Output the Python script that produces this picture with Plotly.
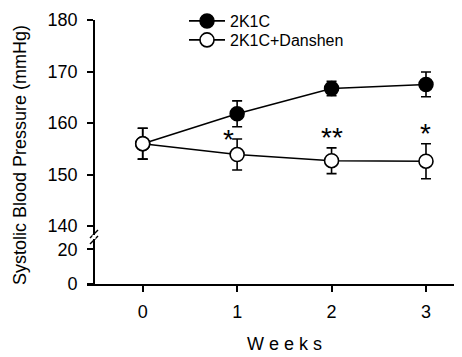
import plotly.graph_objects as go

weeks = [0, 1, 2, 3]
week_labels = ["0", "1", "2", "3"]

k1c_mean = [156.0, 161.8, 166.7, 167.5]
k1c_sem = [3.0, 2.5, 1.4, 2.4]

dan_mean = [156.0, 153.9, 152.7, 152.6]
dan_sem = [3.0, 3.0, 2.5, 3.4]

sig_labels = ["", "*", "**", "*"]

upper_ticks = [140, 150, 160, 170, 180]
lower_ticks = [0, 20]

FONT = "Liberation Sans, Arial, Helvetica, sans-serif"
OFF = 8                          # browser default body margin
W, H = 462 - OFF, 357 - OFF
ML, MT = 87 - OFF, 20 - OFF
PW, PH = 375, 264
MR, MB = W - ML - PW, H - MT - PH
# helpers: reference-image pixel -> paper fraction
px = lambda X: (X - 87) / PW
py = lambda Y: (284 - Y) / PH
brk = py(237)                    # where the axis breaks
yax_pos = px(94)                 # x of the y-axis line

fig = go.Figure()

err_style = dict(type="data", visible=True, thickness=1.6, width=5, color="black")

fig.add_trace(go.Scatter(
    x=weeks, y=k1c_mean, name="2K1C", mode="lines+markers", legend="legend",
    line=dict(color="black", width=1.6),
    marker=dict(symbol="circle", size=14, color="black", line=dict(color="black", width=1.5)),
    error_y=dict(array=k1c_sem, **err_style),
))
fig.add_trace(go.Scatter(
    x=weeks, y=dan_mean, name="2K1C+Danshen", mode="lines+markers", legend="legend2",
    line=dict(color="black", width=1.6),
    marker=dict(symbol="circle", size=14, color="white", line=dict(color="black", width=1.6)),
    error_y=dict(array=dan_sem, **err_style),
))
# empty trace so the lower (0-20) axis segment is drawn
fig.add_trace(go.Scatter(x=[], y=[], yaxis="y2", showlegend=False, hoverinfo="skip"))

# significance stars above the Danshen error bars
star_xshift = [0, -9, 0, 0]
star_yshift = [0, -18, -7, -7]
for wk, m, e, lab, xs, ys in zip(weeks, dan_mean, dan_sem, sig_labels, star_xshift, star_yshift):
    if lab:
        fig.add_annotation(x=wk, y=m + e, xref="x", yref="y", text=lab,
                           showarrow=False, yanchor="bottom", xshift=xs, yshift=ys,
                           font=dict(family=FONT, size=28, color="black"))

# axis titles
fig.add_annotation(x=px(20), y=py(155), xref="paper", yref="paper",
                   xanchor="center", yanchor="middle",
                   text="Systolic Blood Pressure (mmHg)", textangle=-90, showarrow=False,
                   font=dict(family=FONT, size=18, color="black"))
fig.add_annotation(x=(weeks[0] + weeks[-1]) / 2, y=py(344), xref="x", yref="paper",
                   xanchor="center", yanchor="middle",
                   text="W e e k s", showarrow=False,
                   font=dict(family=FONT, size=18, color="black"))

# axis break marks
for dy in (-3, 3):
    fig.add_shape(type="line", xref="paper", yref="paper",
                  x0=yax_pos - 4 / PW, x1=yax_pos + 4 / PW,
                  y0=brk + (dy - 4) / PH, y1=brk + (dy + 4) / PH,
                  line=dict(color="black", width=1.4))
fig.add_shape(type="line", xref="paper", yref="paper",
              x0=yax_pos, x1=yax_pos, y0=brk - 2 / PH, y1=brk + 2 / PH,
              line=dict(color="white", width=3))

axis_common = dict(showgrid=False, zeroline=False, showline=True, linecolor="black",
                   linewidth=1.8, ticks="outside", ticklen=6, tickwidth=1.5,
                   tickcolor="black", tickfont=dict(family=FONT, size=18, color="black"))

leg_common = dict(xanchor="left", yanchor="middle", bgcolor="rgba(0,0,0,0)",
                  font=dict(family=FONT, size=16, color="black"), itemwidth=36)

fig.update_layout(
    width=W, height=H,
    margin=dict(l=ML, r=MR, t=MT, b=MB, autoexpand=False),
    paper_bgcolor="white", plot_bgcolor="white",
    showlegend=True,
    legend=dict(x=px(184), y=py(21), **leg_common),
    legend2=dict(x=px(184), y=py(40), **leg_common),
    xaxis=dict(range=[(87 - 142.7) / 94.43, (87 - 142.7) / 94.43 + PW / 94.43],
               tickvals=weeks, ticktext=week_labels, anchor="y2",
               ticklabelstandoff=4, **axis_common),
    yaxis=dict(domain=[brk, 1], range=[137.9, 180], tickvals=upper_ticks,
               anchor="free", position=yax_pos, ticklabelstandoff=6, **axis_common),
    yaxis2=dict(domain=[0, brk], range=[0, 27.1], tickvals=lower_ticks,
                anchor="free", position=yax_pos, ticklabelstandoff=6, **axis_common),
    font=dict(family=FONT, color="black"),
)

fig.write_html("out.html")
